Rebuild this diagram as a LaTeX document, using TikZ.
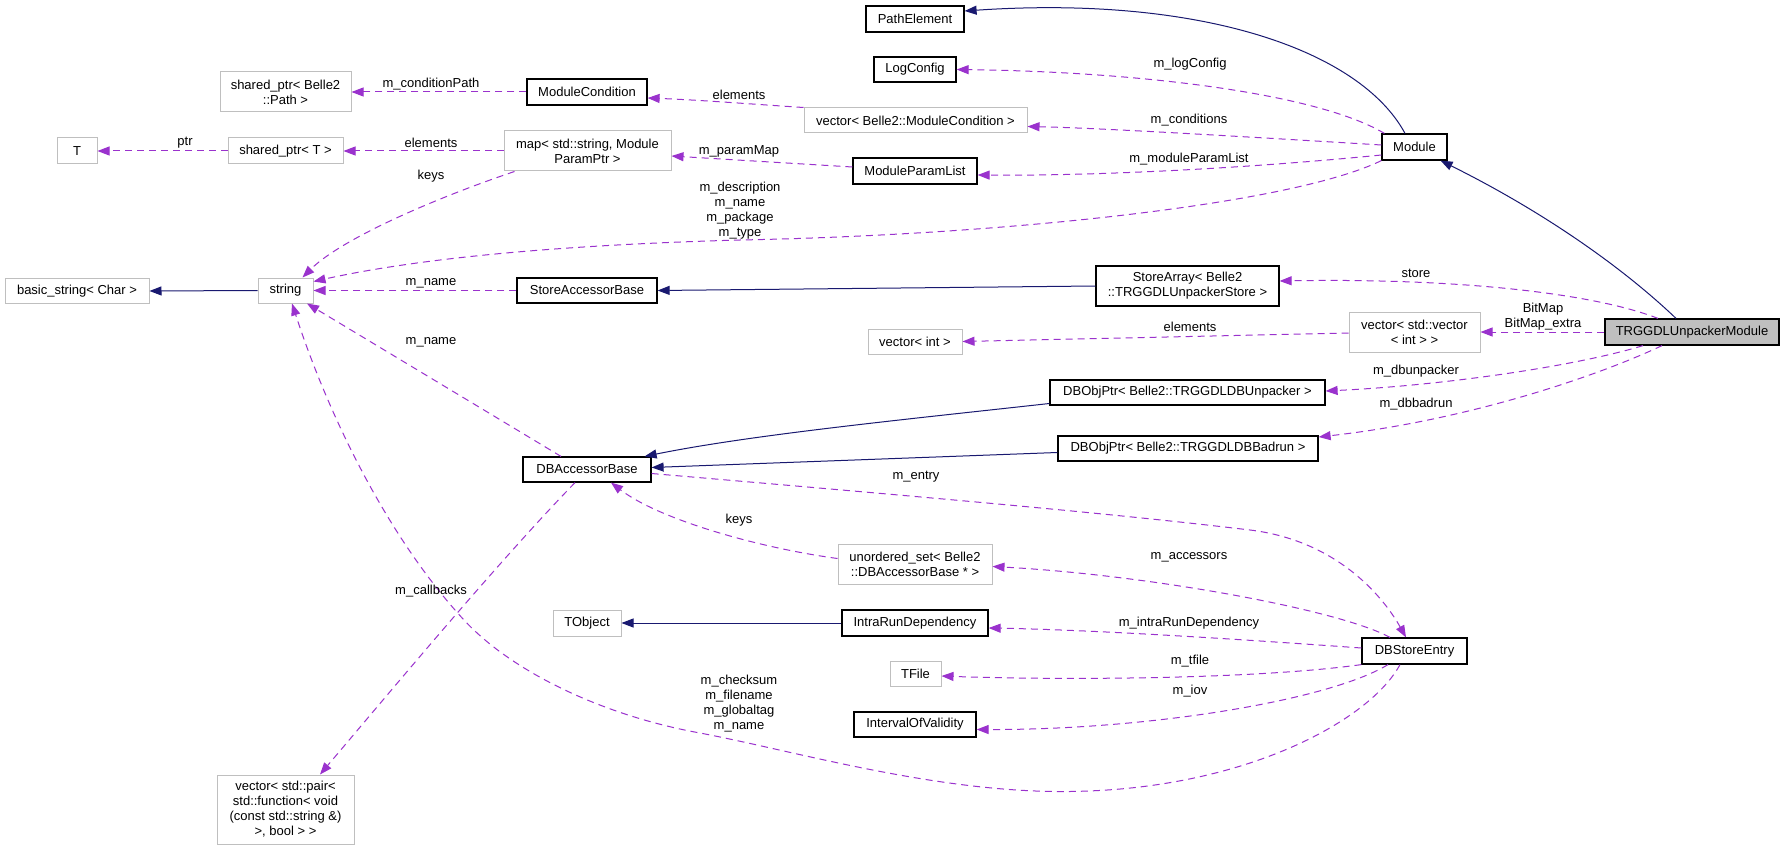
\documentclass[tikz,border=0pt]{standalone}
\usepackage{fontspec}
\setmainfont{Liberation Sans}
\usetikzlibrary{arrows.meta}
\definecolor{depc}{HTML}{9A32CD}
\definecolor{inhc}{HTML}{191970}
\definecolor{greyb}{HTML}{BFBFBF}
\begin{document}
\begin{tikzpicture}[x=1pt,y=-1pt,
  font=\fontsize{13}{15}\selectfont,
  box/.style={draw=black, line width=1.2pt, inner sep=0pt, align=center, fill=white},
  gbox/.style={draw=greyb, line width=1pt, inner sep=0pt, align=center, fill=white},
  usage/.style={draw=depc, line width=1pt, dash pattern=on 7pt off 5pt, -{Triangle[length=12pt,width=9pt,fill=depc]}},
  inherit/.style={draw=inhc, line width=1pt, -{Triangle[length=12pt,width=9pt,fill=inhc]}},
  lbl/.style={inner sep=0pt, align=center}
]
\useasboundingbox (0,0) rectangle (1784,850);
\fill[white] (0,0) rectangle (1784,850);

% nodes
\node[box, minimum width=98pt, minimum height=26pt] (PathElement) at (915,19) {PathElement};
\node[box, minimum width=82pt, minimum height=25pt] (LogConfig) at (915,69.5) {LogConfig};
\node[gbox, minimum width=131pt, minimum height=40pt] (SPPath) at (285.5,92) {shared\_ptr< Belle2\\::Path >};
\node[box, minimum width=120pt, minimum height=26pt] (ModCond) at (587,92) {ModuleCondition};
\node[gbox, minimum width=223pt, minimum height=25pt] (VecModCond) at (915.5,120.5) {vector< Belle2::ModuleCondition >};
\node[gbox, minimum width=40pt, minimum height=26pt] (T) at (77,151) {T};
\node[gbox, minimum width=115pt, minimum height=26pt] (SPT) at (285.5,151) {shared\_ptr< T >};
\node[gbox, minimum width=167pt, minimum height=40pt] (Map) at (587.5,151) {map< std::string, Module\\ParamPtr >};
\node[box, minimum width=124pt, minimum height=26pt] (MPL) at (915,171) {ModuleParamList};
\node[box, minimum width=65pt, minimum height=26pt] (Module) at (1414.5,147) {Module};
\node[gbox, minimum width=144pt, minimum height=25pt] (BasicStr) at (77,291) {basic\_string< Char >};
\node[gbox, minimum width=55pt, minimum height=25pt] (Str) at (285.5,290.5) {string};
\node[box, minimum width=140pt, minimum height=25pt] (SAB) at (587,290.5) {StoreAccessorBase};
\node[box, minimum width=183pt, minimum height=40pt] (SArr) at (1187.5,286) {StoreArray< Belle2\\::TRGGDLUnpackerStore >};
\node[gbox, minimum width=131pt, minimum height=40pt] (VecVec) at (1414.5,332) {vector< std::vector\\< int > >};
\node[box, fill=greyb, minimum width=174pt, minimum height=26pt] (Main) at (1692,332) {TRGGDLUnpackerModule};
\node[gbox, minimum width=94pt, minimum height=25pt] (VecInt) at (915,341.5) {vector< int >};
\node[box, minimum width=275pt, minimum height=25pt] (DBUnp) at (1187.5,392.5) {DBObjPtr< Belle2::TRGGDLDBUnpacker >};
\node[box, minimum width=260pt, minimum height=25pt] (DBBad) at (1188,448.5) {DBObjPtr< Belle2::TRGGDLDBBadrun >};
\node[box, minimum width=128pt, minimum height=25pt] (DBAB) at (587,469.5) {DBAccessorBase};
\node[gbox, minimum width=154pt, minimum height=40pt] (USet) at (915,564.5) {unordered\_set< Belle2\\::DBAccessorBase * >};
\node[gbox, minimum width=68pt, minimum height=26pt] (TObject) at (587,623) {TObject};
\node[box, minimum width=146pt, minimum height=26pt] (IRD) at (915,623) {IntraRunDependency};
\node[gbox, minimum width=51pt, minimum height=25pt] (TFile) at (915.5,673.5) {TFile};
\node[box, minimum width=122pt, minimum height=25pt] (IOV) at (915,724.5) {IntervalOfValidity};
\node[box, minimum width=105pt, minimum height=26pt] (DBSE) at (1414.5,651) {DBStoreEntry};
\node[gbox, minimum width=137pt, minimum height=69pt] (VecPair) at (285.5,809.5) {vector< std::pair<\\std::function< void\\(const std::string \&)\\>, bool > >};

% inheritance
\draw[inherit] ([xshift=-9.5pt]Module.north) .. controls (1360,50) and (1200,-5) .. ([yshift=8pt]PathElement.east);
\draw[inherit] ([xshift=-16pt]Main.north) .. controls (1620,265) and (1540,210) .. ([xshift=-7pt]Module.south east);
\draw[inherit] (SArr.west) -- (SAB.east);
\draw[inherit] ([yshift=-11pt]DBUnp.west) .. controls (900,420) and (750,435) .. ([xshift=-7pt]DBAB.north east);
\draw[inherit] ([yshift=-4pt]DBBad.west) -- ([yshift=2pt]DBAB.east);
\draw[inherit] (IRD.west) -- (TObject.east);
\draw[inherit] (Str.west) -- (BasicStr.east);

% usage
\draw[usage] (ModCond.west) -- (SPPath.east);
\draw[usage] (VecModCond.north west) .. controls (750,104) and (700,100) .. ([yshift=-6pt]ModCond.east);
\draw[usage] ([xshift=3pt]Module.north west) .. controls (1320,95) and (1150,72) .. (LogConfig.east);
\draw[usage] ([yshift=2pt]Module.west) .. controls (1250,137) and (1100,128) .. ([yshift=-6pt]VecModCond.east);
\draw[usage] ([yshift=-8pt]Module.west) .. controls (1250,168) and (1100,176) .. ([yshift=-4pt]MPL.east);
\draw[usage] (Module.south west) .. controls (1290,205) and (1000,235) .. (740,240) .. controls (560,245) and (420,258) .. ([yshift=9pt]Str.east);
\draw[usage] (Map.west) -- (SPT.east);
\draw[usage] (SPT.west) -- (T.east);
\draw[usage] ([yshift=4pt]MPL.west) -- ([yshift=-5pt]Map.east);
\draw[usage] ([xshift=11pt]Map.south west) .. controls (430,200) and (340,240) .. ([xshift=17pt]Str.north);
\draw[usage] (SAB.west) -- (Str.east);
\draw[usage] ([xshift=-26pt]DBAB.north) -- ([xshift=21.5pt]Str.south);
\draw[usage] ([xshift=-14.5pt]DBSE.south) .. controls (1370,720) and (1250,785) .. (1088,791)
   .. controls (950,797) and (800,752) .. (700,733)
   .. controls (600,715) and (510,670) .. (464,620)
   .. controls (390,540) and (330,420) .. ([xshift=6.5pt]Str.south);
\draw[usage] ([xshift=-12pt]DBAB.south) .. controls (500,560) and (400,680) .. ([xshift=34.5pt]VecPair.north);
\draw[usage] ([yshift=6pt]USet.west) .. controls (760,548) and (660,520) .. ([xshift=24pt]DBAB.south);
\draw[usage] ([yshift=-4pt]DBAB.east) .. controls (900,495) and (1100,512) .. (1250,530) .. controls (1340,541) and (1385,600) .. ([xshift=-8.5pt]DBSE.north);
\draw[usage] ([xshift=-24.5pt]DBSE.north) .. controls (1340,610) and (1150,575) .. ([yshift=-2pt]USet.east);
\draw[usage] ([yshift=3pt]DBSE.west) .. controls (1250,640) and (1100,630) .. ([yshift=-5pt]IRD.east);
\draw[usage] (DBSE.south west) .. controls (1250,680) and (1050,680) .. ([yshift=-2.5pt]TFile.east);
\draw[usage] ([xshift=-26.5pt]DBSE.south) .. controls (1330,700) and (1150,730) .. ([yshift=-5pt]IOV.east);
\draw[usage] ([xshift=-34pt]Main.north) .. controls (1590,292) and (1450,278) .. ([yshift=5pt]SArr.east);
\draw[usage] (Main.west) -- (VecVec.east);
\draw[usage] ([yshift=-1pt]VecVec.west) -- (VecInt.east);
\draw[usage] ([xshift=-49pt]Main.south) .. controls (1580,365) and (1450,385) .. ([yshift=1.5pt]DBUnp.east);
\draw[usage] ([xshift=-30pt]Main.south) .. controls (1600,375) and (1470,420) .. ([yshift=11.5pt]DBBad.east);

% labels
\node[lbl] (l1) at (431,84) {m\_conditionPath};
\node[lbl] (l2) at (739,95) {elements};
\node[lbl] (l3) at (1190,64) {m\_logConfig};
\node[lbl] (l4) at (1189,120) {m\_conditions};
\node[lbl] (l5) at (1189,159) {m\_moduleParamList};
\node[lbl] (l6) at (740,211) {m\_description\\m\_name\\m\_package\\m\_type};
\node[lbl] (l7) at (431,143) {elements};
\node[lbl] (l8) at (185,143) {ptr};
\node[lbl] (l9) at (739,151) {m\_paramMap};
\node[lbl] (l10) at (431,176) {keys};
\node[lbl] (l11) at (431,283) {m\_name};
\node[lbl] (l12) at (431,342) {m\_name};
\node[lbl] (l13) at (739,704) {m\_checksum\\m\_filename\\m\_globaltag\\m\_name};
\node[lbl] (l14) at (431,591) {m\_callbacks};
\node[lbl] (l15) at (739,520) {keys};
\node[lbl] (l16) at (916,477) {m\_entry};
\node[lbl] (l17) at (1189,557) {m\_accessors};
\node[lbl] (l18) at (1189,623) {m\_intraRunDependency};
\node[lbl] (l19) at (1190,661) {m\_tfile};
\node[lbl] (l20) at (1190,691) {m\_iov};
\node[lbl] (l21) at (1416,273) {store};
\node[lbl] (l22) at (1543,316.5) {BitMap\\BitMap\_extra};
\node[lbl] (l23) at (1190,327) {elements};
\node[lbl] (l24) at (1416,371) {m\_dbunpacker};
\node[lbl] (l25) at (1416,404) {m\_dbbadrun};
\end{tikzpicture}
\end{document}
